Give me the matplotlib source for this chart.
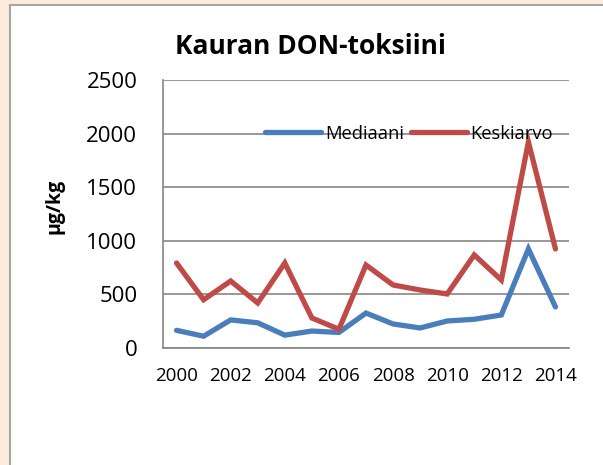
import matplotlib.pyplot as plt
from matplotlib.patches import Rectangle

plt.rcParams['font.family'] = ['Open Sans', 'DejaVu Sans']

vuodet = list(range(2000, 2015))
mediaani = [165, 110, 262, 235, 120, 158, 145, 326, 224, 187, 252, 268, 308, 924, 383]
keskiarvo = [793, 450, 625, 420, 793, 280, 175, 774, 588, 541, 504, 868, 634, 1922, 924]

W, H = 603, 465
fig = plt.figure(figsize=(W / 100, H / 100), dpi=100)
fig.patch.set_facecolor('#FDEADA')

# valkoinen kaaviopaneeli
fig.patches.append(Rectangle((9.5 / W, -0.01), 1.0, 1 - 5.5 / H + 0.01,
                             transform=fig.transFigure, facecolor='white',
                             edgecolor='#A6A6A6', linewidth=1.5, zorder=-10))

ax = fig.add_axes([163 / W, 1 - 348 / H, (569 - 163) / W, (348 - 80) / H])
ax.set_facecolor('none')

x = list(range(len(vuodet)))
ax.plot(x, mediaani, color='#4A7EBB', lw=3.8, label='Mediaani',
        solid_capstyle='round', solid_joinstyle='miter', zorder=3)
ax.plot(x, keskiarvo, color='#BE4B48', lw=3.8, label='Keskiarvo',
        solid_capstyle='round', solid_joinstyle='miter', zorder=3)

ax.set_xlim(-0.5, len(vuodet) - 0.5)
ax.set_ylim(0, 2500)
ax.set_yticks(range(0, 2501, 500))
ax.set_xticks(x[::2])
ax.set_xticklabels([str(v) for v in vuodet[::2]], fontsize=13.5)
ax.tick_params(axis='y', labelsize=16, length=0, pad=18.5)
ax.tick_params(axis='x', length=0, pad=14)

ax.grid(axis='y', color='#868686', lw=1.2)
ax.set_axisbelow(True)
for s in ['top', 'right']:
    ax.spines[s].set_visible(False)
ax.spines['left'].set_color('#868686')
ax.spines['bottom'].set_color('#868686')
ax.spines['left'].set_linewidth(1.2)
ax.spines['bottom'].set_linewidth(1.2)

ax.set_ylabel('µg/kg', fontsize=14, fontweight='bold')
ax.yaxis.set_label_coords((65 - 163) / 406, (348 - 206) / 268)
fig.text(310 / W, 1 - 47 / H, 'Kauran DON-toksiini', fontsize=19,
         fontweight='bold', ha='center', va='center')

leg = ax.legend(ncol=2, loc='center left', bbox_to_anchor=((265 - 163) / 406, 0.8),
                frameon=False, fontsize=13.2, handlelength=3.05, handletextpad=0.22,
                columnspacing=0.38, borderpad=0, borderaxespad=0)

fig.savefig('out.png', dpi=100, facecolor=fig.get_facecolor())
